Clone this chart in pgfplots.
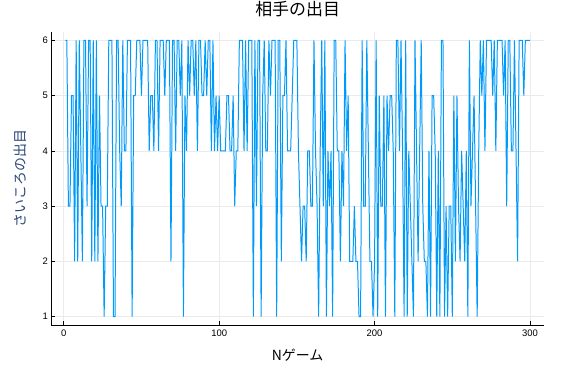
\documentclass[border=0pt]{standalone}
\usepackage{fontspec}
\setmainfont{Liberation Sans}
\newfontfamily\jp{Noto Sans CJK JP}
\usepackage{pgfplots}
\pgfplotsset{compat=1.18}
\definecolor{jblue}{RGB}{0,154,250}
\definecolor{gridc}{RGB}{235,235,235}
\begin{document}
\begin{tikzpicture}
\path[use as bounding box] (0,0) rectangle (580bp,368bp);
\begin{axis}[
  at={(51.3bp,43bp)}, anchor=south west,
  scale only axis, width=492.7bp, height=293bp,
  xmin=-8, xmax=309, ymin=0.85, ymax=6.15,
  xtick={0,100,200,300}, ytick={1,2,3,4,5,6},
  axis x line*=bottom, axis y line*=left,
  axis line style={black, line width=0.8pt, -},
  tick align=inside, major tick length=4bp,
  tick style={black, line width=0.6pt},
  grid=major, major grid style={gridc, line width=0.5pt},
  /pgf/number format/assume math mode=true,
  ticklabel style={font=\fontsize{9.5}{10}\selectfont},
  xticklabel style={yshift=-1bp},
  title={\jp 相手の出目},
  title style={at={(axis description cs:0.5,1)}, anchor=center, yshift=17bp, font=\fontsize{17}{18}\selectfont},
  xlabel={\jp Nゲーム},
  xlabel style={at={(axis description cs:0.5,0)}, anchor=center, yshift=-30bp, font=\fontsize{14}{15}\selectfont},
  ylabel={\jp さいころの出目},
  ylabel style={at={(axis description cs:-0.063,0.5)}, anchor=center, font=\fontsize{14}{15}\selectfont, color={rgb,255:red,40;green,70;blue,120}},
]
\addplot[jblue, line width=1pt, mark=none] coordinates {
(1,6)(2,6)(3,3)(4,3)(5,5)(6,5)(7,2)(8,6)(9,2)(10,6)
(11,4)(12,2)(13,6)(14,6)(15,3)(16,6)(17,6)(18,2)(19,6)(20,2)
(21,6)(22,2)(23,5)(24,3)(25,3)(26,1)(27,3)(28,3)(29,6)(30,6)
(31,6)(32,1)(33,1)(34,6)(35,6)(36,4)(37,3)(38,6)(39,4)(40,4)
(41,6)(42,6)(43,6)(44,1)(45,5)(46,5)(47,6)(48,6)(49,6)(50,5)
(51,6)(52,6)(53,6)(54,6)(55,4)(56,5)(57,5)(58,4)(59,6)(60,6)
(61,4)(62,6)(63,6)(64,6)(65,5)(66,6)(67,6)(68,6)(69,2)(70,6)
(71,6)(72,4)(73,6)(74,6)(75,5)(76,6)(77,1)(78,5)(79,4)(80,6)
(81,5)(82,6)(83,6)(84,5)(85,6)(86,4)(87,6)(88,6)(89,5)(90,5)
(91,6)(92,5)(93,6)(94,6)(95,4)(96,6)(97,4)(98,5)(99,4)(100,5)
(101,4)(102,4)(103,4)(104,4)(105,5)(106,5)(107,4)(108,4)(109,5)(110,3)
(111,4)(112,4)(113,6)(114,6)(115,6)(116,4)(117,6)(118,4)(119,6)(120,6)
(121,6)(122,1)(123,6)(124,3)(125,6)(126,6)(127,1)(128,5)(129,6)(130,4)
(131,4)(132,6)(133,5)(134,6)(135,6)(136,6)(137,1)(138,6)(139,6)(140,2)
(141,5)(142,5)(143,6)(144,4)(145,4)(146,4)(147,5)(148,6)(149,6)(150,6)
(151,4)(152,3)(153,2)(154,3)(155,3)(156,2)(157,4)(158,4)(159,3)(160,3)
(161,6)(162,4)(163,3)(164,1)(165,4)(166,6)(167,3)(168,6)(169,1)(170,4)
(171,3)(172,4)(173,1)(174,6)(175,6)(176,4)(177,4)(178,2)(179,4)(180,3)
(181,6)(182,4)(183,5)(184,2)(185,2)(186,2)(187,3)(188,2)(189,2)(190,1)
(191,1)(192,6)(193,3)(194,3)(195,6)(196,4)(197,2)(198,2)(199,1)(200,2)
(201,6)(202,1)(203,5)(204,3)(205,3)(206,5)(207,1)(208,5)(209,4)(210,5)
(211,5)(212,4)(213,1)(214,6)(215,6)(216,4)(217,6)(218,4)(219,1)(220,6)
(221,1)(222,4)(223,3)(224,2)(225,1)(226,6)(227,4)(228,2)(229,4)(230,6)
(231,3)(232,2)(233,2)(234,1)(235,4)(236,1)(237,5)(238,5)(239,4)(240,1)
(241,4)(242,1)(243,6)(244,6)(245,1)(246,3)(247,1)(248,3)(249,3)(250,1)
(251,5)(252,2)(253,5)(254,3)(255,2)(256,4)(257,3)(258,2)(259,4)(260,1)
(261,6)(262,3)(263,4)(264,5)(265,3)(266,1)(267,4)(268,6)(269,5)(270,6)
(271,4)(272,6)(273,6)(274,6)(275,6)(276,5)(277,6)(278,4)(279,6)(280,6)
(281,6)(282,6)(283,5)(284,6)(285,3)(286,6)(287,6)(288,4)(289,4)(290,6)
(291,4)(292,2)(293,6)(294,6)(295,6)(296,5)(297,6)(298,6)(299,6)(300,6)
};
\end{axis}
\end{tikzpicture}
\end{document}
